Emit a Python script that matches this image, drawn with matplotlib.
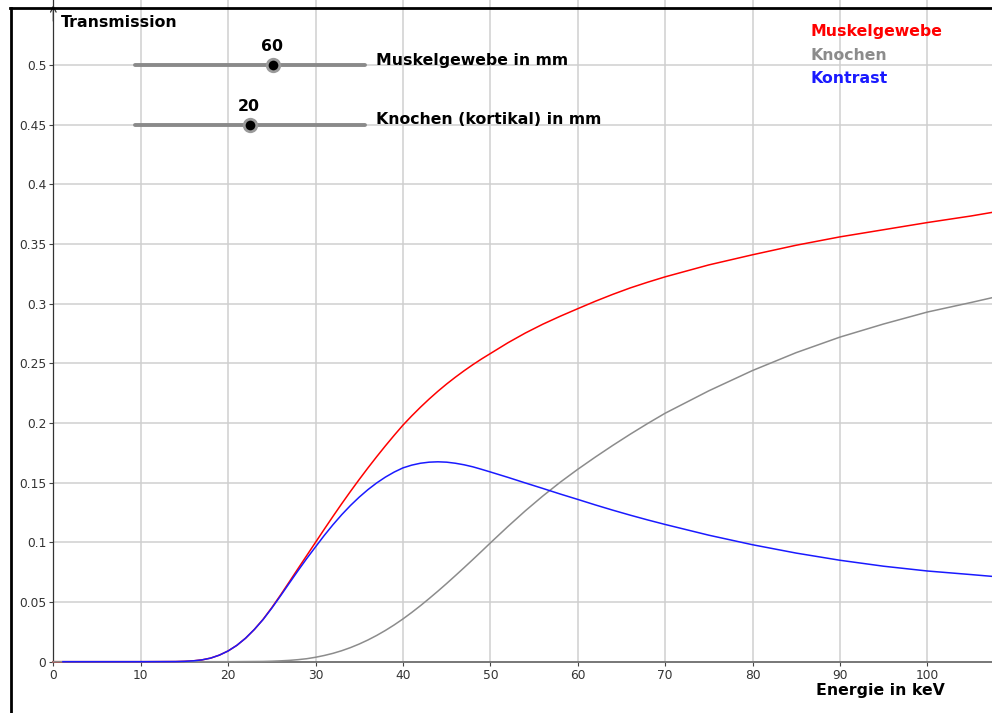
import matplotlib
matplotlib.use("Agg")
import matplotlib.pyplot as plt
from matplotlib.lines import Line2D

plt.rcParams["font.family"] = ["DejaVu Sans"]

# energy in keV and transmission values of the three curves
energy_muskel = [0, 5, 10, 14, 15, 16, 17, 18, 19, 20, 21, 22, 23, 24, 25, 26, 27, 28, 29,
                 30, 31, 32, 33, 34, 35, 36, 37, 38, 39, 40, 41, 42, 43, 44, 45, 46, 47, 48, 49,
                 50, 52, 54, 56, 58, 60, 62, 64, 66, 68, 70, 75, 80, 85, 90, 95, 100, 105, 107.4]
muskel = [0, 0, 0, 0.0001, 0.0003, 0.0007, 0.0015, 0.003, 0.0055, 0.009, 0.0137, 0.0197,
          0.0270, 0.0355, 0.0453, 0.0559, 0.0669, 0.0780, 0.0890,
          0.1000, 0.1110, 0.1218, 0.1324, 0.1427, 0.1527, 0.1624, 0.1718, 0.1809, 0.1897,
          0.1982, 0.2059, 0.2132, 0.2201, 0.2266, 0.2327, 0.2384, 0.2438, 0.2489, 0.2537,
          0.2582, 0.2672, 0.2754, 0.2828, 0.2895, 0.2958, 0.3020, 0.3078, 0.3132, 0.3180,
          0.3225, 0.3325, 0.341, 0.349, 0.356, 0.362, 0.368, 0.3735, 0.3765]

energy_knochen = [0, 20, 24, 25, 26, 27, 28, 29, 30, 31, 32, 33, 34, 35, 36, 37, 38, 39,
                  40, 41, 42, 43, 44, 45, 46, 47, 48, 49, 50, 52, 54, 56, 58, 60,
                  62, 64, 66, 68, 70, 75, 80, 85, 90, 95, 100, 105, 107.4]
knochen = [0, 0, 0.0002, 0.0004, 0.0007, 0.0011, 0.0017, 0.0025, 0.0037, 0.0052, 0.0070,
           0.0092, 0.0118, 0.0148, 0.0182, 0.0220, 0.0262, 0.0308,
           0.0358, 0.0412, 0.0469, 0.0529, 0.0591, 0.0655, 0.0721, 0.0788, 0.0856, 0.0925,
           0.0995, 0.1132, 0.1264, 0.1388, 0.1504, 0.1612,
           0.1714, 0.1812, 0.1906, 0.1996, 0.2082, 0.227, 0.244, 0.259, 0.272, 0.283, 0.293,
           0.301, 0.305]

energy_kontrast = [1.1, 5, 10, 14, 15, 16, 17, 18, 19, 20, 21, 22, 23, 24, 25, 26, 27, 28, 29,
                   30, 31, 32, 33, 34, 35, 36, 37, 38, 39, 40, 41, 42, 43, 44, 45, 46, 47, 48, 49,
                   50, 52, 54, 56, 58, 60, 62, 64, 66, 68, 70, 75, 80, 85, 90, 95, 100, 105, 107.4]
kontrast = [0, 0, 0, 0.0001, 0.0003, 0.0007, 0.0015, 0.003, 0.0055, 0.009, 0.0137, 0.0197,
            0.0270, 0.0353, 0.0449, 0.0552, 0.0658, 0.0763, 0.0865,
            0.0962, 0.1058, 0.1148, 0.1232, 0.1309, 0.1379, 0.1442, 0.1498, 0.1547, 0.1589,
            0.1624, 0.1647, 0.1663, 0.1672, 0.1675, 0.1672, 0.1663, 0.1650, 0.1633, 0.1612,
            0.1590, 0.1545, 0.1498, 0.1452, 0.1405, 0.1360, 0.1314, 0.1270, 0.1228, 0.1188,
            0.1150, 0.106, 0.098, 0.091, 0.085, 0.080, 0.076, 0.073, 0.0715]

x_ticks = [0, 10, 20, 30, 40, 50, 60, 70, 80, 90, 100]
y_ticks = [0, 0.05, 0.1, 0.15, 0.2, 0.25, 0.3, 0.35, 0.4, 0.45, 0.5]
y_tick_labels = ["0", "0.05", "0.1", "0.15", "0.2", "0.25", "0.3", "0.35", "0.4", "0.45", "0.5"]

# slider settings: label, value, maximum
slider_names = ["Muskelgewebe in mm", "Knochen (kortikal) in mm"]
slider_values = [60, 20]
slider_max = [100, 40]

x_min, x_max = -6.1, 107.4
y_min, y_max = -0.043, 0.5545

fig = plt.figure(figsize=(9.92, 7.13), dpi=100)
ax = fig.add_axes([0, 0, 1, 1])
ax.set_xlim(x_min, x_max)
ax.set_ylim(y_min, y_max)

# grid only in the positive quadrant
grid_c = "#cfcfcf"
ax.vlines(x_ticks[1:], 0, y_max, color=grid_c, lw=1.1, zorder=0)
ax.hlines(y_ticks[1:], 0, x_max, color=grid_c, lw=1.1, zorder=0)

# axes through the origin
for s in ["top", "right"]:
    ax.spines[s].set_visible(False)
ax.spines["left"].set_position(("data", 0))
ax.spines["bottom"].set_position(("data", 0))
ax.spines["left"].set_bounds(0, y_max)
ax.spines["bottom"].set_bounds(0, x_max)
ax.spines["left"].set_color("#333333")
ax.spines["left"].set_linewidth(0.9)
ax.spines["bottom"].set_color("#777777")
ax.spines["bottom"].set_linewidth(1.4)

ax.set_xticks(x_ticks)
ax.set_xticklabels([str(t) for t in x_ticks])
ax.set_yticks(y_ticks)
ax.set_yticklabels(y_tick_labels)
ax.tick_params(axis="both", direction="out", length=3, width=0.8, colors="#444444",
               labelsize=8.8, labelcolor="#333333", pad=2)

ax.annotate("", xy=(0, y_max - 0.002), xytext=(0, y_max - 0.02),
            arrowprops=dict(arrowstyle="->", color="#333333", lw=0.9, mutation_scale=10))

# curves
ax.plot(energy_muskel, muskel, color="#ff0000", lw=1.1, zorder=3)
ax.plot(energy_knochen, knochen, color="#8c8c8c", lw=1.1, zorder=3)
ax.plot(energy_kontrast, kontrast, color="#1a1aff", lw=1.1, zorder=4)

bold = dict(fontsize=11.3, fontweight="bold")

# axis titles
ax.text(0.9, 0.536, "Transmission", va="center", ha="left", **bold)
ax.text(102.0, -0.0245, "Energie in keV", va="center", ha="right", **bold)

# sliders
slider_x0, slider_x1 = 9.35, 35.66
slider_y = [0.5, 0.45]
for name, val, vmax, yy in zip(slider_names, slider_values, slider_max, slider_y):
    ax.plot([slider_x0, slider_x1], [yy, yy], color="#8a8a8a", lw=2.8,
            solid_capstyle="round", zorder=5)
    kx = slider_x0 + (slider_x1 - slider_x0) * val / vmax
    ax.plot(kx, yy, marker="o", markersize=9, markerfacecolor="black",
            markeredgecolor="#9a9a9a", markeredgewidth=2, zorder=6)
    ax.text(kx - 0.1, yy + 0.0152, str(val), ha="center", va="center", zorder=6, **bold)
    ax.text(slider_x1 + 1.3, yy + 0.004, name, ha="left", va="center", zorder=6, **bold)

# curve labels
legend_names = ["Muskelgewebe", "Knochen", "Kontrast"]
legend_colors = ["#ff0000", "#8c8c8c", "#1a1aff"]
for i, (n, c) in enumerate(zip(legend_names, legend_colors)):
    ax.text(86.6, 0.5285 - i * 0.0201, n, color=c, ha="left", va="center", **bold)

# window frame on the left and top edges
fig.add_artist(Line2D([10.5 / 992, 10.5 / 992], [0, 1 - 8 / 713], transform=fig.transFigure,
                      color="black", lw=2))
fig.add_artist(Line2D([10 / 992, 1], [1 - 8 / 713, 1 - 8 / 713], transform=fig.transFigure,
                      color="black", lw=2))

fig.savefig("out.png", dpi=100)
